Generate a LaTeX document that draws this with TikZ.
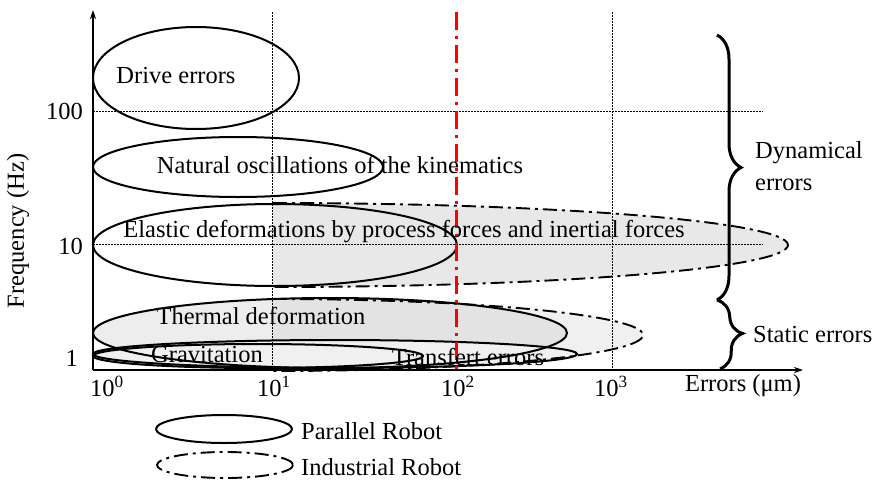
\documentclass[tikz,border=0pt]{standalone}
\usepackage{fontspec}
\setmainfont{Liberation Serif}
\usetikzlibrary{decorations.pathreplacing,arrows.meta}
\begin{document}
\begin{tikzpicture}[x=1pt,y=-1pt,
  lbl/.style={inner sep=0pt,font=\fontsize{24.5}{32}\selectfont},
  solidell/.style={line width=2pt},
  indell/.style={line width=1.9pt,dash pattern=on 14pt off 5pt on 3pt off 5pt},
  gridline/.style={line width=0.9pt,dash pattern=on 1.5pt off 1.5pt},
  bracestyle/.style={line width=3pt,decorate,decoration={brace,amplitude=24pt}},
  axis/.style={line width=1.4pt,-{Stealth[length=9pt,width=6pt]}}]
\useasboundingbox (0,0) rectangle (875,482);
% fills
\fill[black!9] (273,203) arc[start angle=-90,end angle=90,x radius=515,y radius=42] -- cycle;
\fill[black!6] (273,299) arc[start angle=-90,end angle=90,x radius=370,y radius=36] -- cycle;
\fill[black!7] (330,333) ellipse[x radius=237,y radius=35];
\begin{scope}
\clip (273,0) rectangle (875,482);
\fill[black!11] (330,333) ellipse[x radius=237,y radius=35];
\end{scope}
\fill[black!6] (335,354) ellipse[x radius=242,y radius=14];
\fill[black!6] (258,356) ellipse[x radius=165,y radius=12];
% grid
\draw[gridline] (272,12) -- (272,370);
\draw[gridline] (612,12) -- (612,370);
\draw[gridline] (93,111) -- (763,111);
\draw[gridline] (93,244) -- (763,244);
% industrial outlines
\draw[indell] (273,203) arc[start angle=-90,end angle=90,x radius=515,y radius=42];
\draw[indell] (273,299) arc[start angle=-90,end angle=90,x radius=370,y radius=36];
% parallel outlines
\draw[solidell] (196,78) ellipse[x radius=103,y radius=51];
\draw[solidell] (238,167) ellipse[x radius=145,y radius=30];
\draw[solidell] (275,245) ellipse[x radius=182,y radius=41];
\draw[solidell] (330,333) ellipse[x radius=237,y radius=35];
\draw[solidell] (335,354) ellipse[x radius=242,y radius=14];
\draw[solidell] (258,356) ellipse[x radius=165,y radius=12];
% red line
\draw[red,line width=3pt,dash pattern=on 18pt off 6pt on 3pt off 6pt] (456,12) -- (456,370);
% axes
\coordinate (O) at (93,370);
\coordinate (ytop) at (93,10);
\coordinate (xend) at (803,370);
\draw[axis] (O) -- (ytop);
\draw[axis] (O) -- (xend);
% braces
\draw[bracestyle] (717,35) -- (717,300);
\draw[bracestyle] (717,300) -- (720,369);
% texts
\node[lbl] (drive) at (176,76) {Drive errors};
\node[lbl] (nat) at (340,165) {Natural oscillations of the kinematics};
\node[lbl] (ela) at (404,232) {Elastic deformations by process forces and inertial forces};
\node[lbl] (therm) at (261,316) {Thermal deformation};
\node[lbl] (grav) at (207,355) {Gravitation};
\node[lbl] (trans) at (468,357) {Transfert errors};
\node[lbl,anchor=east] (y100) at (83,111) {100};
\node[lbl,anchor=east] (y10) at (83,246) {10};
\node[lbl,anchor=east] (y1) at (78,358) {1};
\node[lbl,rotate=90] (freq) at (18,231) {Frequency (Hz)};
\node[lbl,anchor=west] (x0) at (90,386) {10\textsuperscript{0}};
\node[lbl] (x1) at (274,386) {10\textsuperscript{1}};
\node[lbl] (x2) at (458,386) {10\textsuperscript{2}};
\node[lbl] (x3) at (611,386) {10\textsuperscript{3}};
\node[lbl] (xerr) at (743,386) {Errors (μm)};
\node[lbl,anchor=west,align=left] (dyn) at (755,166) {Dynamical\\errors};
\node[lbl,anchor=west] (stat) at (753,335) {Static errors};
% legend
\draw[solidell] (224,429) ellipse[x radius=68,y radius=14];
\draw[indell] (225,465) ellipse[x radius=68,y radius=13];
\node[lbl,anchor=west] (lpar) at (301,431) {Parallel Robot};
\node[lbl,anchor=west] (lind) at (301,467) {Industrial Robot};
\end{tikzpicture}
\end{document}
